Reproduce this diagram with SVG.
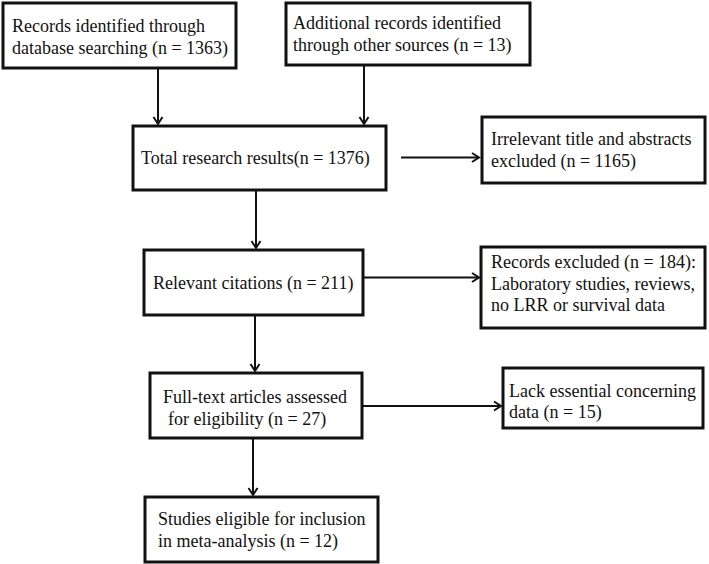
<svg xmlns="http://www.w3.org/2000/svg" width="709" height="564" viewBox="0 0 709 564" font-family="'Liberation Serif','Times New Roman',serif">
<style>
.box{fill:#fff;stroke:#111;stroke-width:3}
.t{font-family:"Liberation Serif","Times New Roman",serif;font-size:18px;fill:#111}
.c{fill:none;stroke:#111;stroke-width:2}
</style>
<defs>
<marker id="ah" markerUnits="userSpaceOnUse" markerWidth="12" markerHeight="12" viewBox="0 0 12 12" refX="10" refY="6" orient="auto">
<path d="M3,1.5 L10,6 L3,10.5" fill="none" stroke="#111" stroke-width="2"/>
</marker>
</defs>
<rect width="709" height="564" fill="#fff"/>
<g id="connectors">
<line class="c" x1="158" y1="68" x2="158" y2="124" marker-end="url(#ah)"/>
<line class="c" x1="364" y1="66" x2="364" y2="124" marker-end="url(#ah)"/>
<line class="c" x1="401" y1="157.5" x2="479" y2="157.5" marker-end="url(#ah)"/>
<line class="c" x1="256" y1="190" x2="256" y2="248" marker-end="url(#ah)"/>
<line class="c" x1="363" y1="277.5" x2="479" y2="277.5" marker-end="url(#ah)"/>
<line class="c" x1="255" y1="315" x2="255" y2="371" marker-end="url(#ah)"/>
<line class="c" x1="362" y1="406" x2="501" y2="406" marker-end="url(#ah)"/>
<line class="c" x1="253" y1="438" x2="253" y2="495" marker-end="url(#ah)"/>
</g>
<g id="n1">
<rect class="box" x="3" y="3" width="233" height="65"/>
<text class="t" x="12" y="32">Records identified through</text>
<text class="t" x="12" y="54">database searching (n = 1363)</text>
</g>
<g id="n2">
<rect class="box" x="286" y="3" width="244" height="62"/>
<text class="t" x="293" y="29">Additional records identified</text>
<text class="t" x="293" y="51">through other sources (n = 13)</text>
</g>
<g id="n3">
<rect class="box" x="133" y="126" width="253" height="64"/>
<text class="t" x="141" y="164">Total research results(n = 1376)</text>
</g>
<g id="n4">
<rect class="box" x="482" y="117" width="223" height="66"/>
<text class="t" x="491" y="145">Irrelevant title and abstracts</text>
<text class="t" x="491" y="167">excluded (n = 1165)</text>
</g>
<g id="n5">
<rect class="box" x="144" y="250" width="219" height="65"/>
<text class="t" x="153" y="289">Relevant citations (n = 211)</text>
</g>
<g id="n6">
<rect class="box" x="481" y="247" width="224" height="81"/>
<text class="t" x="491" y="268">Records excluded (n = 184):</text>
<text class="t" x="491" y="290">Laboratory studies, reviews,</text>
<text class="t" x="491" y="311">no LRR or survival data</text>
</g>
<g id="n7">
<rect class="box" x="150" y="373" width="212" height="65"/>
<text class="t" x="163" y="403">Full-text articles assessed</text>
<text class="t" x="168" y="425">for eligibility (n = 27)</text>
</g>
<g id="n8">
<rect class="box" x="503" y="368" width="200" height="60"/>
<text class="t" x="509" y="397">Lack essential concerning</text>
<text class="t" x="509" y="418">data (n = 15)</text>
</g>
<g id="n9">
<rect class="box" x="145" y="497" width="233" height="65"/>
<text class="t" x="158" y="525">Studies eligible for inclusion</text>
<text class="t" x="158" y="547">in meta-analysis (n = 12)</text>
</g>
</svg>
